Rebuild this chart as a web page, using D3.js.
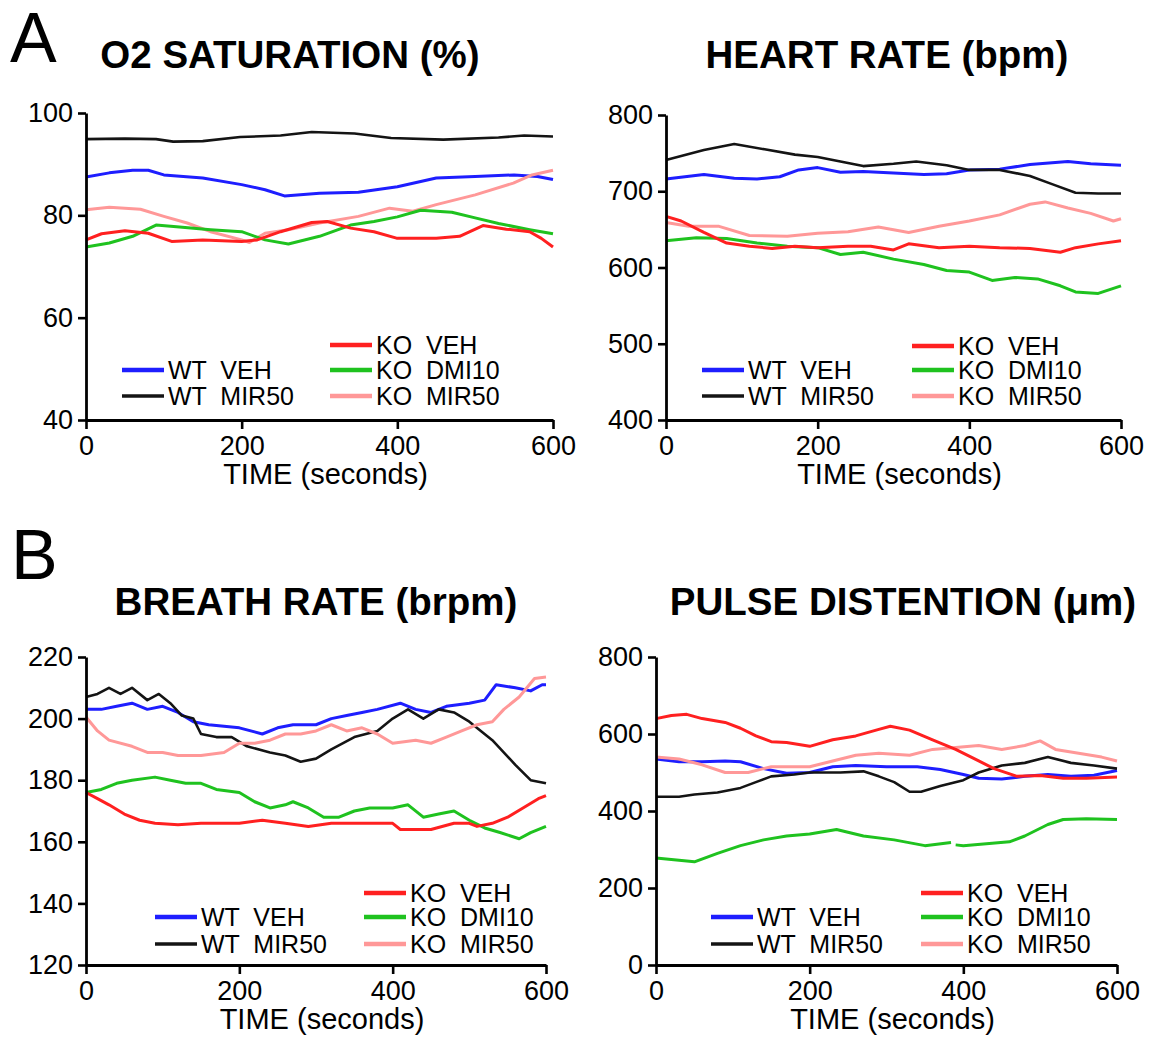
<!DOCTYPE html>
<html><head><meta charset="utf-8">
<script src="https://cdn.jsdelivr.net/npm/d3@7"></script>
<style>body{margin:0;background:#fff} svg text{font-family:"Liberation Sans",Arial,sans-serif;fill:#000}</style>
</head><body><svg id="c" width="1159" height="1038"></svg>
<script>
// ---- shared ----
const xTicks = [0, 200, 400, 600];
const seriesNames = ["WT  VEH", "WT  MIR50", "KO  VEH", "KO  DMI10", "KO  MIR50"];
const seriesColors = ["#1e1eff", "#141414", "#ff2020", "#1fc21f", "#ff9898"];

// ---- A: O2 saturation (%) ----
const o2Ticks = [40, 60, 80, 100];
const o2WtVeh = [[0,87.5],[30,88.3],[60,88.8],[80,88.8],[100,87.9],[150,87.3],[200,86],[230,85],[255,83.8],[300,84.3],[350,84.5],[400,85.6],[450,87.3],[500,87.6],[550,87.9],[580,87.6],[600,87]];
const o2WtMir = [[0,94.9],[50,95],[90,94.9],[112,94.4],[150,94.5],[198,95.3],[250,95.6],[290,96.3],[345,96],[392,95.1],[459,94.8],[530,95.2],[563,95.6],[600,95.4]];
const o2KoVeh = [[0,75.2],[20,76.4],[50,77],[80,76.5],[110,74.9],[150,75.2],[200,74.9],[220,75.2],[250,76.8],[290,78.6],[310,78.8],[340,77.5],[370,76.8],[400,75.5],[450,75.5],[480,75.9],[510,78],[540,77.3],[570,76.8],[585,75.5],[600,73.8]];
const o2KoDmi = [[0,73.8],[30,74.6],[60,75.9],[90,78.1],[120,77.7],[160,77.2],[200,76.8],[230,75.2],[260,74.4],[300,75.9],[340,78.1],[370,78.8],[400,79.7],[430,81],[470,80.6],[500,79.5],[530,78.4],[570,77.2],[600,76.4]];
const o2KoMir = [[0,81.1],[30,81.6],[70,81.2],[100,79.8],[130,78.5],[160,76.8],[200,75.2],[210,74.7],[230,76.5],[260,77.2],[300,78.5],[350,79.8],[390,81.4],[420,80.8],[450,82.1],[500,84],[549,86.3],[573,87.9],[600,88.8]];

// ---- A: heart rate (bpm) ----
const hrTicks = [400, 500, 600, 700, 800];
const hrWtVeh = [[0,716],[50,722],[90,717],[120,716],[150,719],[175,728],[200,731],[230,725],[260,726],[300,724],[340,722],[370,723],[400,728],[440,729],[480,735],[530,739],[560,736],[600,734]];
const hrWtMir = [[0,741],[50,754],[90,762],[130,755],[170,748],[200,745],[230,739],[260,733],[300,736],[330,739],[370,734],[400,728],[440,728],[480,720],[510,709],[540,698],[570,697],[600,697]];
const hrKoVeh = [[0,667],[20,661],[50,646],[80,632],[110,628],[140,625],[170,628],[200,626],[240,628],[270,628],[300,623],[320,631],[360,626],[400,628],[440,626],[480,625],[520,620],[540,626],[570,631],[600,635]];
const hrKoDmi = [[0,635],[40,639],[80,638],[120,632],[160,628],[200,626],[230,617],[260,620],[300,611],[340,604],[370,596],[400,594],[430,583],[460,587],[490,585],[520,576],[540,568],[570,566],[600,576]];
const hrKoMir = [[0,659],[30,654],[70,654],[110,642],[160,641],[200,645],[240,647],[280,653],[320,646],[360,654],[400,661],[440,669],[480,683],[500,686],[530,678],[560,671],[590,661],[600,664]];

// ---- B: breath rate (brpm) ----
const brTicks = [120, 140, 160, 180, 200, 220];
const brWtVeh = [[0,203],[20,203],[40,204],[60,205],[80,203],[100,204],[120,202],[140,199],[160,198],[200,197],[230,195],[250,197],[270,198],[300,198],[320,200],[340,201],[360,202],[380,203],[410,205],[430,203],[450,202],[470,204],[500,205],[520,206],[535,211],[560,210],[580,209],[595,211],[600,211]];
const brWtMir = [[0,207],[15,208],[30,210],[45,208],[60,210],[80,206],[95,208],[110,205],[125,201],[140,200],[150,195],[170,194],[190,194],[210,191],[240,189],[260,188],[280,186],[300,187],[320,190],[350,194],[380,196],[400,200],[420,203],[440,200],[460,203],[480,202],[500,199],[530,193],[560,185],[580,180],[600,179]];
const brKoVeh = [[0,176],[15,174],[30,172],[50,169],[70,167],[90,166],[120,165.5],[150,166],[200,166],[230,167],[260,166],[290,165],[320,166],[400,166],[410,164],[450,164],[480,166],[500,166],[510,165],[530,166],[550,168],[570,171],[590,174],[600,175]];
const brKoDmi = [[0,176],[20,177],[40,179],[60,180],[90,181],[110,180],[130,179],[150,179],[170,177],[200,176],[220,173],[240,171],[260,172],[270,173],[290,171],[310,168],[330,168],[350,170],[370,171],[400,171],[420,172],[440,168],[460,169],[480,170],[500,167],[520,164.5],[540,163],[565,161],[580,163],[600,165]];
const brKoMir = [[0,200.5],[15,196],[30,193],[60,191],[80,189],[100,189],[120,188],[150,188],[180,189],[200,192],[220,192],[240,193],[260,195],[280,195],[300,196],[320,198],[340,196],[360,197],[380,195],[400,192],[430,193],[450,192],[470,194],[490,196],[510,198],[530,199],[545,203],[565,207],[585,213],[600,213.5]];

// ---- B: pulse distention (µm) ----
const pdTicks = [0, 200, 400, 600, 800];
const pdWtVeh = [[0,535],[30,528],[60,528],[90,530],[110,528],[140,510],[170,498],[200,500],[230,515],[260,518],[300,515],[340,515],[370,508],[400,495],[420,485],[450,483],[480,490],[510,495],[540,490],[570,493],[600,505]];
const pdWtMir = [[0,437],[30,437],[50,443],[80,448],[110,460],[130,475],[150,490],[180,495],[200,500],[240,500],[270,503],[290,490],[310,475],[330,450],[345,450],[370,465],[400,480],[420,500],[450,518],[480,525],[510,540],[540,525],[570,518],[600,510]];
const pdKoVeh = [[0,640],[20,648],[40,651],[60,640],[90,630],[110,615],[130,595],[150,580],[170,578],[200,568],[230,585],[260,595],[290,612],[305,620],[330,610],[360,585],[390,560],[420,530],[440,510],[470,490],[500,492],[530,485],[560,485],[600,488]];
const pdKoDmi = [[0,278],[30,272],[50,268],[80,290],[110,310],[140,325],[170,335],[200,340],[235,352],[270,335],[310,325],[350,310],[384,318],[386,null],[390,312],[400,310],[430,315],[460,320],[480,335],[510,365],[530,378],[560,380],[600,378]];
const pdKoMir = [[0,540],[30,535],[60,520],[90,500],[120,500],[150,515],[200,515],[230,530],[260,545],[290,550],[330,545],[360,560],[390,565],[420,570],[450,560],[480,570],[500,582],[520,560],[550,550],[580,540],[600,530]];

const svg = d3.select("#c");

function panel(p) {
  const x = d3.scaleLinear().domain([0, 600]).range([p.x0, p.x1]);
  const y = d3.scaleLinear().domain(p.yDomain).range([p.yb, p.yt]);
  const g = svg.append("g");

  // title
  g.append("text").attr("x", p.tx).attr("y", p.ty).attr("text-anchor", "middle")
    .attr("font-size", 38.5).attr("font-weight", "bold").text(p.title);

  // data lines (draw order)
  const line = d3.line().defined(d => d[1] != null).x(d => x(d[0])).y(d => y(d[1]));
  const order = [0, 1, 4, 3, 2];
  order.forEach(i => {
    g.append("path").datum(p.series[i]).attr("d", line)
      .attr("fill", "none").attr("stroke", seriesColors[i])
      .attr("stroke-width", i === 1 ? 2.6 : 3).attr("stroke-linejoin", "round");
  });

  // axes
  const xa = g.append("g").attr("transform", `translate(0,${p.yb})`)
    .call(d3.axisBottom(x).tickValues(xTicks).tickSize(9).tickSizeOuter(0).tickPadding(7));
  const ya = g.append("g").attr("transform", `translate(${p.x0},0)`)
    .call(d3.axisLeft(y).tickValues(p.ticks).tickSize(8).tickSizeOuter(0).tickPadding(5));
  [xa, ya].forEach(a => {
    a.attr("font-size", 27).attr("font-family", '"Liberation Sans",Arial,sans-serif');
    a.selectAll("path.domain").attr("stroke", "#000").attr("stroke-width", 2.8);
    a.selectAll(".tick line").attr("stroke", "#000").attr("stroke-width", 2.6);
    a.selectAll(".tick text").attr("fill", "#000");
  });

  // x-axis title
  g.append("text").attr("x", (p.x0 + p.x1) / 2 + 6).attr("y", p.yb + 64)
    .attr("text-anchor", "middle").attr("font-size", 29).text("TIME (seconds)");

  // legend
  const items = [
    {i: 0, col: 0, row: 1}, {i: 1, col: 0, row: 2},
    {i: 2, col: 1, row: 0}, {i: 3, col: 1, row: 1}, {i: 4, col: 1, row: 2}
  ];
  items.forEach(it => {
    const lx = p.x0 + (it.col === 0 ? p.legL : p.legR);
    const ly = p.legRows[it.row];
    g.append("line").attr("x1", lx).attr("x2", lx + 42).attr("y1", ly).attr("y2", ly)
      .attr("stroke", seriesColors[it.i]).attr("stroke-width", it.i === 1 ? 3.5 : 4.5);
    g.append("text").attr("x", lx + 46).attr("y", ly + 9).attr("font-size", 25)
      .attr("style", "white-space:pre").text(seriesNames[it.i]);
  });
}

panel({title: "O2 SATURATION (%)", tx: 290, ty: 68, x0: 86, x1: 553, yb: 420, yt: 113,
  yDomain: [40, 100], ticks: o2Ticks, series: [o2WtVeh, o2WtMir, o2KoVeh, o2KoDmi, o2KoMir],
  legL: 36, legR: 244, legRows: [345, 370, 396]});
panel({title: "HEART RATE (bpm)", tx: 887, ty: 68, x0: 666, x1: 1121, yb: 420, yt: 115,
  yDomain: [400, 800], ticks: hrTicks, series: [hrWtVeh, hrWtMir, hrKoVeh, hrKoDmi, hrKoMir],
  legL: 36, legR: 246, legRows: [346, 370, 396]});
panel({title: "BREATH RATE (brpm)", tx: 316, ty: 615, x0: 86, x1: 546, yb: 965, yt: 657,
  yDomain: [120, 220], ticks: brTicks, series: [brWtVeh, brWtMir, brKoVeh, brKoDmi, brKoMir],
  legL: 69, legR: 278, legRows: [893, 917, 944]});
panel({title: "PULSE DISTENTION (μm)", tx: 903, ty: 615, x0: 656, x1: 1117, yb: 965, yt: 657,
  yDomain: [0, 800], ticks: pdTicks, series: [pdWtVeh, pdWtMir, pdKoVeh, pdKoDmi, pdKoMir],
  legL: 55, legR: 265, legRows: [893, 917, 944]});

// panel letters
svg.append("text").attr("x", 10).attr("y", 62).attr("font-size", 70).text("A");
svg.append("text").attr("x", 11).attr("y", 579).attr("font-size", 70).text("B");
</script></body></html>
